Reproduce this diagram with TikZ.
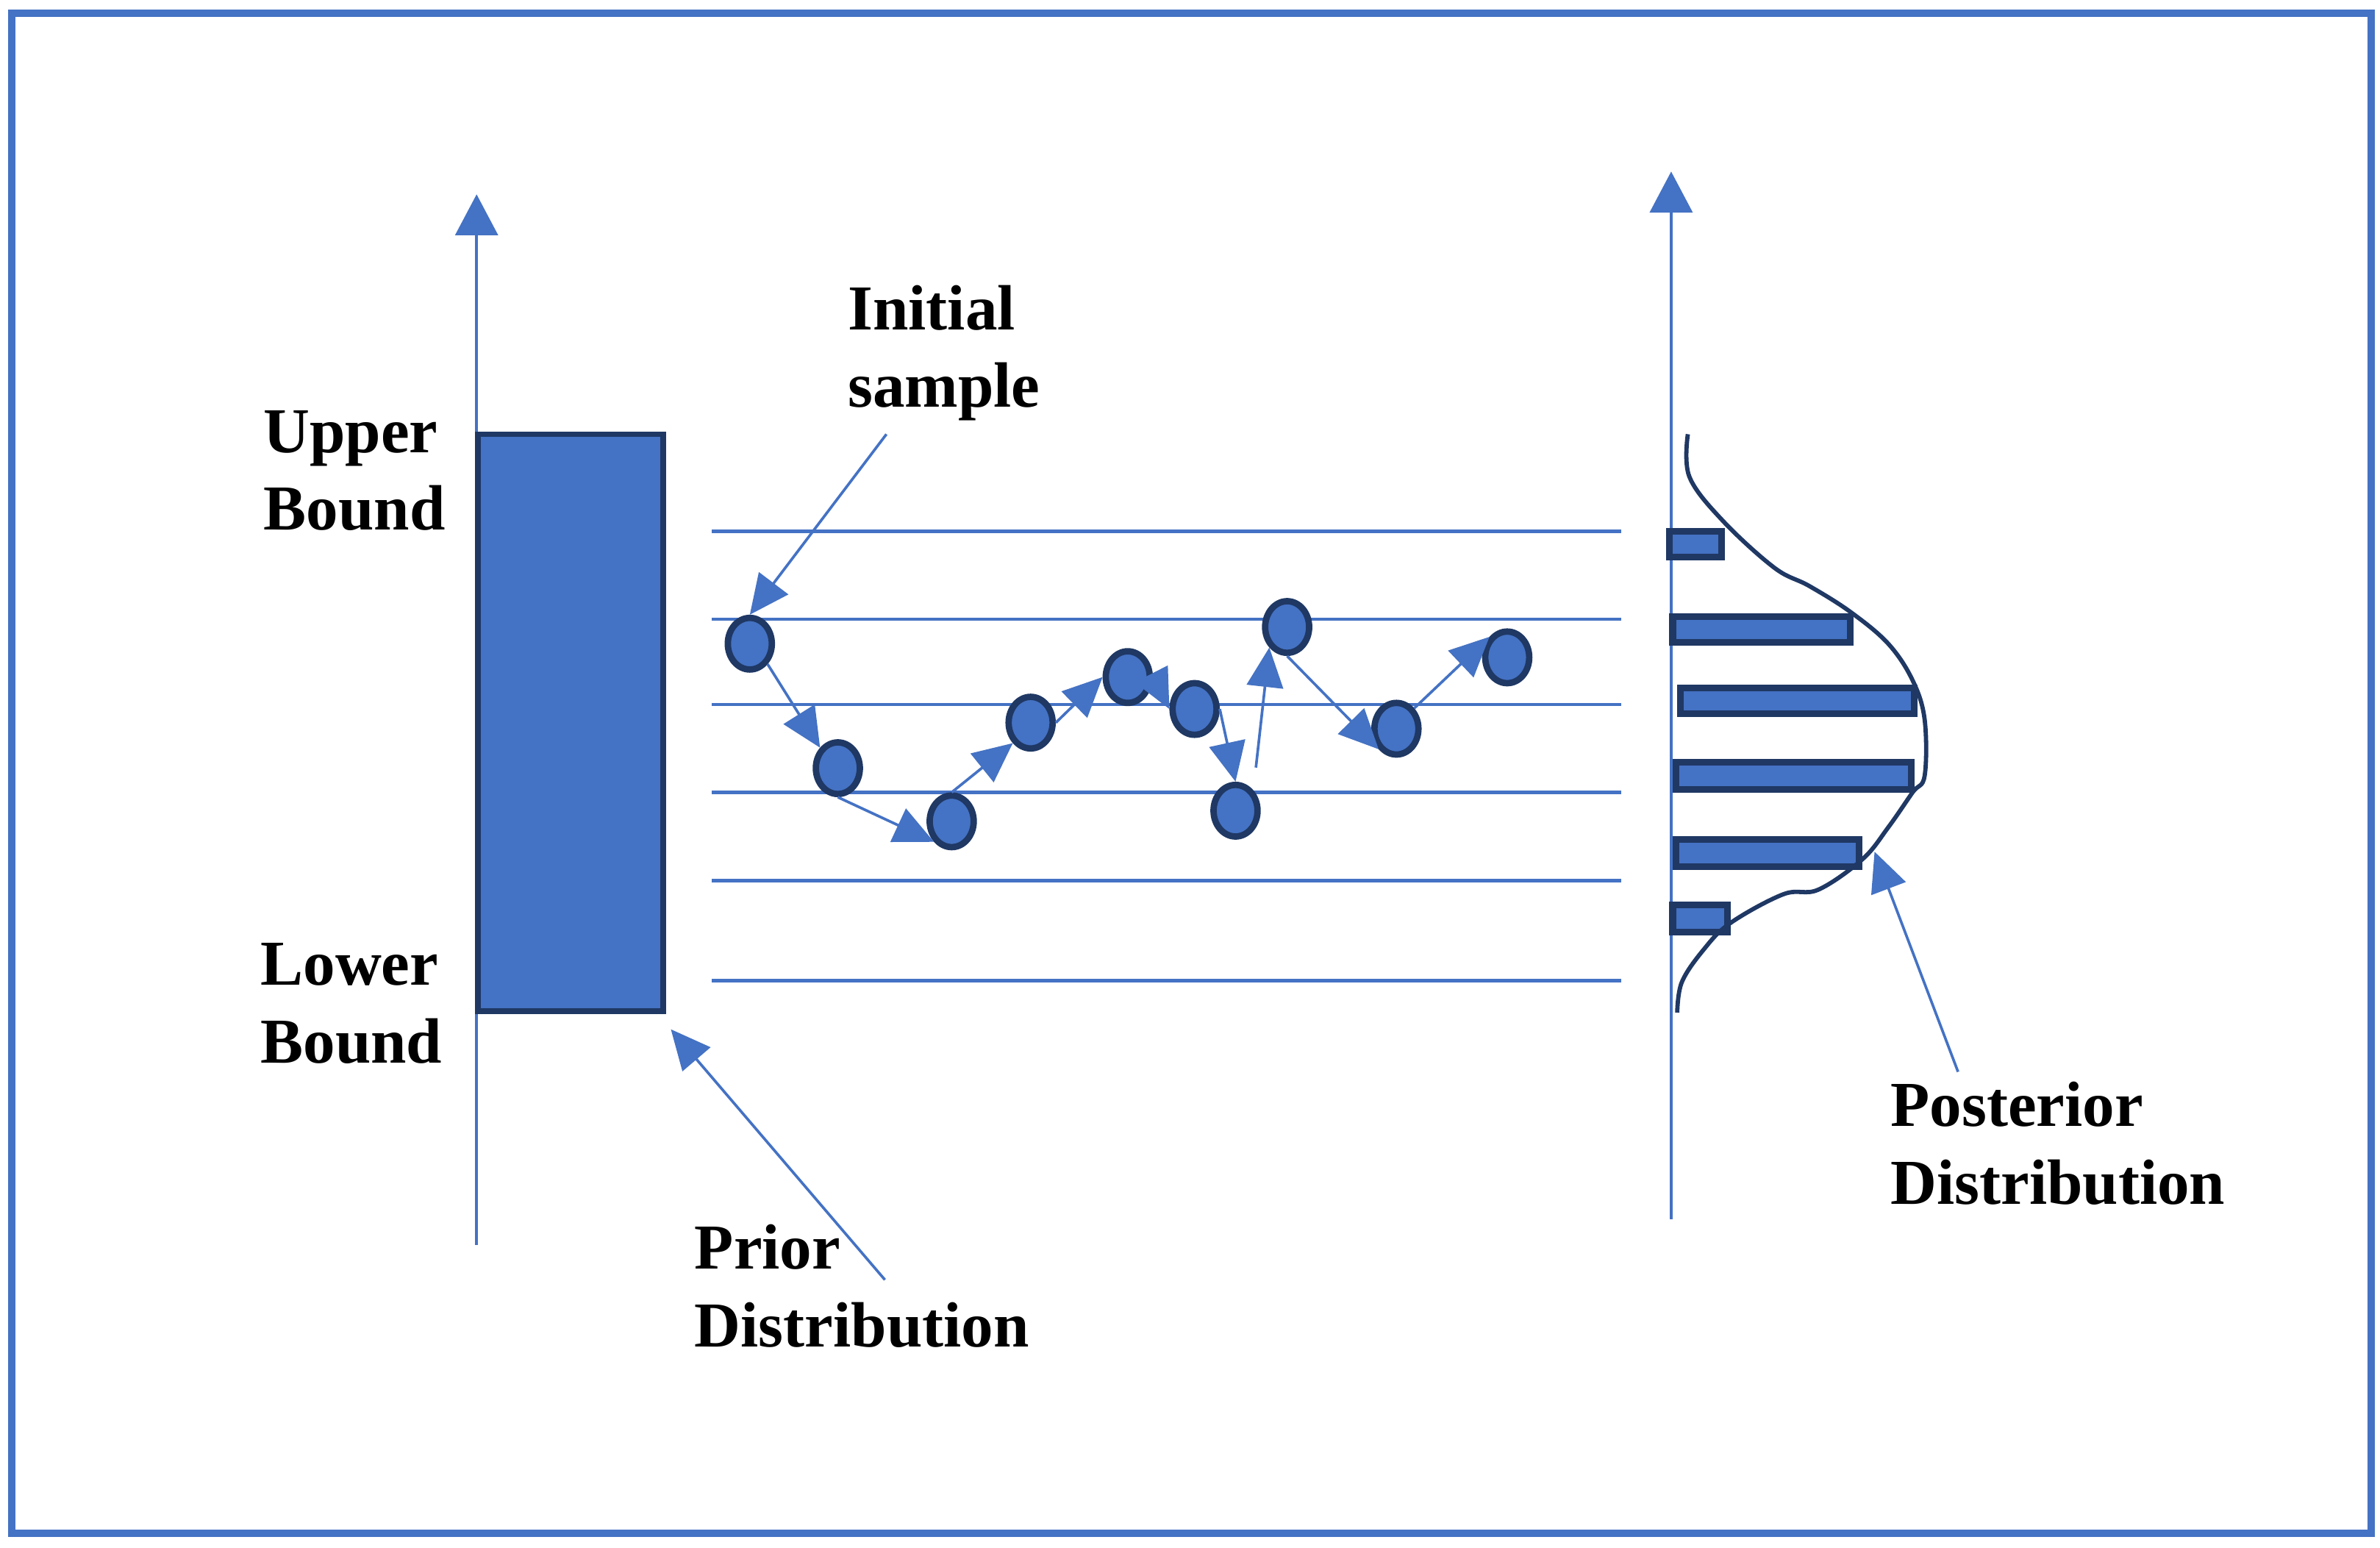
\documentclass[tikz,border=0pt]{standalone}
\usepackage{fontspec}
\setmainfont{Liberation Serif}
\usetikzlibrary{arrows.meta,shapes.geometric}
\definecolor{fillblue}{HTML}{4472C4}
\definecolor{edgenavy}{HTML}{1F3864}
\begin{document}
\begin{tikzpicture}[
x=0.1mm,y=-0.1mm,
frame/.style={draw=fillblue,line width=1.35pt},
axisline/.style={draw=fillblue,line width=0.6pt,-{Triangle[length=2.7mm,width=2.8mm]}},
binline/.style={draw=fillblue,line width=0.6pt},
priorbar/.style={fill=fillblue,draw=edgenavy,line width=1.05pt,outer sep=0pt,inner sep=0pt,anchor=north west},
histbar/.style={fill=fillblue,draw=edgenavy,line width=1.25pt},
density/.style={draw=edgenavy,line width=0.8pt},
sampledot/.style={ellipse,fill=fillblue,draw=edgenavy,line width=1.2pt,minimum width=2.9mm,minimum height=3.4mm,inner sep=0pt},
walk/.style={draw=fillblue,line width=0.5pt,-{Triangle[length=2.6mm,width=2.4mm]}},
lbl/.style={anchor=base west,align=left,inner sep=0pt,font=\bfseries\fontsize{12}{14.5}\selectfont},
]
\useasboundingbox (0,0) rectangle (1568,1019.2);
\path[frame] (7.7,8.6) rectangle (1562,1010);
\path[axisline] (314,820) -- (314,128);
\path[axisline] (1101,803) -- (1101,113);
\node[priorbar,minimum width=12.2mm,minimum height=38mm] (priorbox) at (315,286) {};
\foreach \y in {350,408,464,522,580,646}
  \path[binline] (469,\y) -- (1068,\y);
\foreach \xa/\ya/\xb/\yb in {1100/350/1134/367, 1102/406/1219/423, 1107/453/1261/470,
    1104/502/1259/520, 1104/553/1225/571, 1102/596/1138/614}
  \path[histbar] (\xa,\ya) rectangle (\xb,\yb);
\draw[density] plot[smooth,tension=0.6] coordinates {(1112,286) (1113,314) (1135,343)
  (1169,374) (1192,386) (1219,403) (1244,424) (1260,448) (1268,474) (1268,511)
  (1260,522) (1244,545) (1227,566) (1198,586) (1175,589) (1140,608) (1122,626)
  (1108,647) (1105,667)};
\foreach \n/\x/\y in {1/494/424, 2/552/506, 3/627/541, 4/679/476, 5/743/446,
    6/787/467, 7/814/534, 8/848/413, 9/920/480, 10/993/433}
  \node[sampledot] (s\n) at (\x,\y) {};
\draw[walk] (s1.south east) -- (s2.north west);
\draw[walk] (s2.south) -- (s3.south west);
\draw[walk] (s3.north) -- (s4.south west);
\draw[walk] (s4.east) -- (s5.west);
\draw[walk] (s5.east) -- (s6.west);
\draw[walk] (s6.east) -- (s7.north);
\draw[walk,shorten <=1.5mm] (s7.north east) -- (s8.south west);
\draw[walk] (s8.south) -- (s9.south west);
\draw[walk] (s9.north east) -- (s10.north west);
\node[lbl] (upper) at (173,349) {Upper\\Bound};
\node[lbl] (lower) at (171,700) {Lower\\Bound};
\node[lbl] (init) at (558,268) {Initial\\sample};
\node[lbl] (prior) at (457,887) {Prior\\Distribution};
\node[lbl] (post) at (1245,793) {Posterior\\Distribution};
\coordinate (inittail) at (584,286);
\coordinate (priortail) at (583,843);
\coordinate (posttail) at (1290,706);
\coordinate (posthead) at (1235,561);
\draw[walk] (inittail) -- (s1.north);
\draw[walk] (priortail) -- ([xshift=0.5mm,yshift=-1.2mm]priorbox.south east);
\draw[walk] (posttail) -- (posthead);
\end{tikzpicture}
\end{document}
